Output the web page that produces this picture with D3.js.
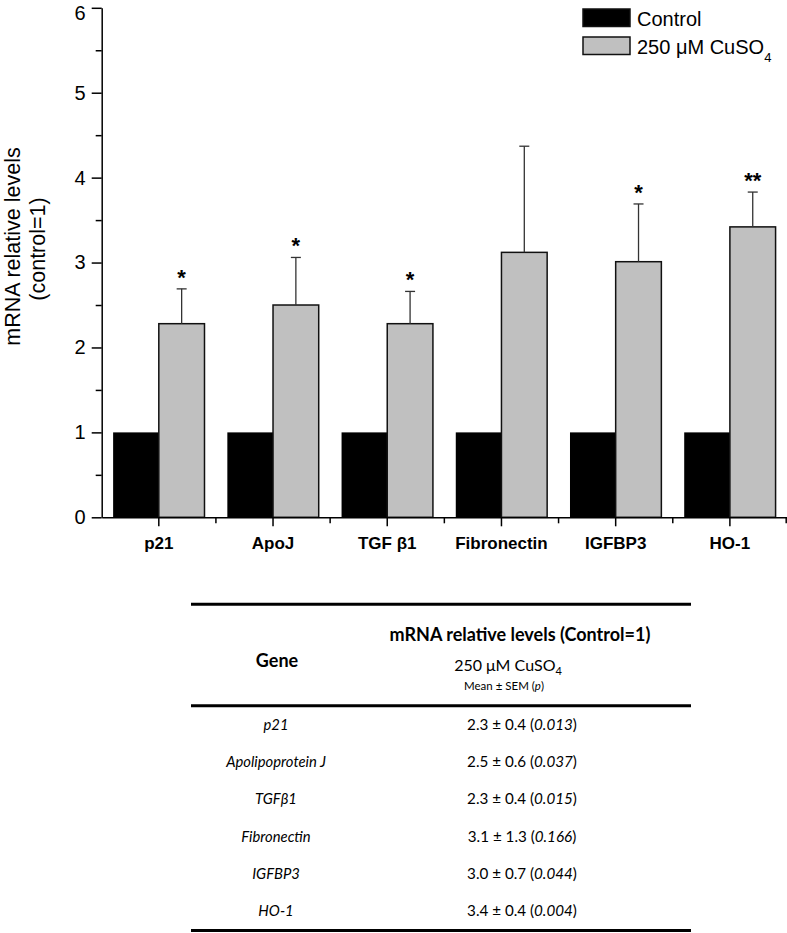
<!DOCTYPE html>
<html><head><meta charset="utf-8">
<script src="https://cdn.jsdelivr.net/npm/d3@7"></script>
<style>body{margin:0;background:#fff}svg{display:block}</style>
</head><body>
<svg id="chart" width="787" height="933"></svg>
<script>
// ---- data ----
const categories = ["p21", "ApoJ", "TGF β1", "Fibronectin", "IGFBP3", "HO-1"];
const controlValues = [1, 1, 1, 1, 1, 1];
const cuso4Values = [2.28, 2.50, 2.28, 3.12, 3.01, 3.42];
const cuso4Errors = [0.41, 0.56, 0.38, 1.25, 0.68, 0.41];
const significance = ["*", "*", "*", "", "*", "**"];
const yTicks = [0, 1, 2, 3, 4, 5, 6];
const yMinorTicks = [0.5, 1.5, 2.5, 3.5, 4.5, 5.5];
const seriesNames = ["Control", "250 μM CuSO"];
const seriesSub = ["", "4"];
const tableGenes = ["p21", "Apolipoprotein J", "TGFβ1", "Fibronectin", "IGFBP3", "HO-1"];
const tableMeans = ["2.3", "2.5", "2.3", "3.1", "3.0", "3.4"];
const tableSems = ["0.4", "0.6", "0.4", "1.3", "0.7", "0.4"];
const tablePValues = ["0.013", "0.037", "0.015", "0.166", "0.044", "0.004"];

// ---- layout ----
const svg = d3.select("#chart");
const AX = "'Liberation Sans', Arial, sans-serif";
const TB = "Lato, 'Open Sans', sans-serif";
const x0 = d3.scaleBand().domain(categories).range([101.7, 787]).padding(0);
const x1 = d3.scaleBand().domain(["control", "cuso4"]).range([0, x0.bandwidth()]).paddingInner(0).paddingOuter(0.25);
const y = d3.scaleLinear().domain([0, 6]).range([517.3, 7.8]);

const data = categories.map((c, i) => ({c, ctrl: controlValues[i], v: cuso4Values[i], e: cuso4Errors[i], s: significance[i]}));

// bars
const g = svg.append("g");
g.selectAll("rect.ctrl").data(data).join("rect")
  .attr("x", d => x0(d.c) + x1("control")).attr("width", x1.bandwidth())
  .attr("y", d => y(d.ctrl)).attr("height", d => y(0) - y(d.ctrl))
  .attr("fill", "#000");
g.selectAll("rect.cu").data(data).join("rect")
  .attr("x", d => x0(d.c) + x1("cuso4")).attr("width", x1.bandwidth())
  .attr("y", d => y(d.v)).attr("height", d => y(0) - y(d.v))
  .attr("fill", "#c0c0c0").attr("stroke", "#111").attr("stroke-width", 1.5);

// error bars
const cx = d => x0(d.c) + x1("cuso4") + x1.bandwidth() / 2;
g.selectAll("line.err").data(data).join("line")
  .attr("x1", cx).attr("x2", cx).attr("y1", d => y(d.v)).attr("y2", d => y(d.v + d.e))
  .attr("stroke", "#333").attr("stroke-width", 1.3);
g.selectAll("line.cap").data(data).join("line")
  .attr("x1", d => cx(d) - 5).attr("x2", d => cx(d) + 5).attr("y1", d => y(d.v + d.e)).attr("y2", d => y(d.v + d.e))
  .attr("stroke", "#333").attr("stroke-width", 1.3);
g.selectAll("text.sig").data(data).join("text")
  .attr("x", cx).attr("y", d => y(d.v + d.e) - 4)
  .attr("text-anchor", "middle").attr("font-family", AX).attr("font-weight", "bold").attr("font-size", 22)
  .text(d => d.s);

// y axis
const yAxis = svg.append("g").attr("transform", "translate(101.7,0)")
  .call(d3.axisLeft(y).tickValues(yTicks).tickFormat(d3.format("d")).tickSize(10).tickSizeOuter(0).tickPadding(6));
svg.append("g").attr("transform", "translate(101.7,0)")
  .call(d3.axisLeft(y).tickValues(yMinorTicks).tickFormat("").tickSize(6).tickSizeOuter(0))
  .select(".domain").remove();
// x axis
const xAxis = svg.append("g").attr("transform", "translate(0,517.3)")
  .call(d3.axisBottom(x0).tickSize(9).tickSizeOuter(0).tickPadding(11));
svg.append("g").attr("transform", "translate(0,517.3)")
  .selectAll("line").data(categories.slice(1).map(c => x0(c)).concat([x0.range()[1] - 0.8])).join("line")
  .attr("x1", d => d).attr("x2", d => d).attr("y1", 0).attr("y2", 6)
  .attr("stroke", "#000").attr("stroke-width", 1.5);

svg.selectAll(".domain, .tick line").attr("stroke", "#000").attr("stroke-width", 1.5);
yAxis.selectAll("text").attr("font-family", AX).attr("font-size", 20).attr("fill", "#000")
  .attr("dy", d => d === 6 ? "0.56em" : "0.32em");
xAxis.selectAll("text").attr("font-family", AX).attr("font-size", 17).attr("font-weight", "bold").attr("fill", "#000");

// y title
const yt = svg.append("g").attr("transform", "rotate(-90)")
  .attr("font-family", AX).attr("font-size", 21.5).attr("text-anchor", "middle");
yt.append("text").attr("x", -246.5).attr("y", 19.5).text("mRNA relative levels");
yt.append("text").attr("x", -249).attr("y", 44.5).text("(control=1)");

// legend
const leg = svg.append("g").attr("font-family", AX).attr("font-size", 20);
const legFill = ["#000", "#c0c0c0"];
seriesNames.forEach((n, i) => {
  leg.append("rect").attr("x", 583).attr("y", 9 + i * 28).attr("width", 47).attr("height", 17.5)
    .attr("fill", legFill[i]).attr("stroke", "#111").attr("stroke-width", 1.5);
  const t = leg.append("text").attr("x", 637).attr("y", 26 + i * 27.5).text(n);
  if (seriesSub[i]) t.append("tspan").attr("font-size", 13).attr("dy", 8).text(seriesSub[i]);
});

// ---- table ----
const tl = svg.append("g").attr("stroke", "#000").attr("stroke-width", 3);
[604.3, 705.7, 930.5].forEach(yy => tl.append("line").attr("x1", 191).attr("x2", 691).attr("y1", yy).attr("y2", yy));

const tg = svg.append("g").attr("font-family", TB).attr("fill", "#000").attr("text-anchor", "middle");
tg.append("text").attr("x", 520).attr("y", 641).attr("font-weight", "bold").attr("font-size", 18).text("mRNA relative levels (Control=1)");
tg.append("text").attr("x", 277).attr("y", 667).attr("font-weight", "bold").attr("font-size", 18).text("Gene");
const cu = tg.append("text").attr("x", 508).attr("y", 671).attr("font-size", 16).text("250 μM CuSO");
cu.append("tspan").attr("font-size", 11).attr("dy", 4).text("4");
const ms = tg.append("text").attr("x", 504).attr("y", 690).attr("font-size", 11.5).text("Mean ± SEM (");
ms.append("tspan").attr("font-style", "italic").text("p");
ms.append("tspan").text(")");

tableGenes.forEach((gname, i) => {
  const by = 730 + i * 37.2;
  tg.append("text").attr("x", 276).attr("y", by).attr("font-size", 14.8).attr("font-style", "italic").text(gname);
  const vt = tg.append("text").attr("x", 522).attr("y", by).attr("font-size", 15.2)
    .text(`${tableMeans[i]} ± ${tableSems[i]} (`);
  vt.append("tspan").attr("font-style", "italic").text(tablePValues[i]);
  vt.append("tspan").text(")");
});
</script>
</body></html>
